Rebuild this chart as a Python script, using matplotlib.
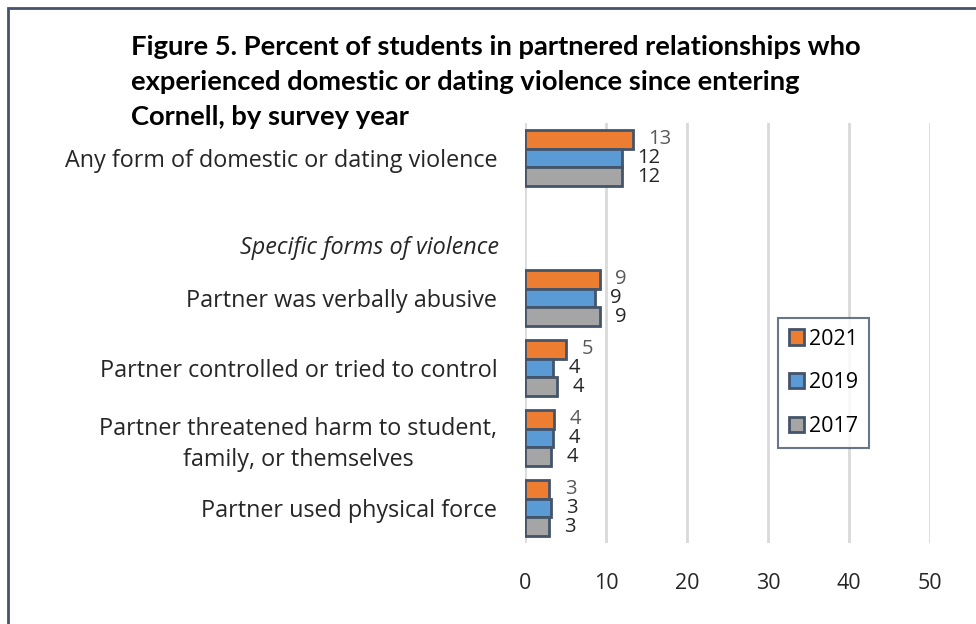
import matplotlib.pyplot as plt
import numpy as np
from matplotlib.patches import Rectangle

categories = ["Any form of domestic or dating violence", "",
              "Partner was verbally abusive",
              "Partner controlled or tried to control",
              "Partner threatened harm to student,\nfamily, or themselves",
              "Partner used physical force"]
years = ["2021", "2019", "2017"]
v2021 = [13.3, np.nan, 9.2, 5.1, 3.6, 3.0]
v2019 = [12.0, np.nan, 8.6, 3.5, 3.5, 3.2]
v2017 = [12.0, np.nan, 9.2, 4.0, 3.2, 2.9]
labels2021 = ["13", "", "9", "5", "4", "3"]
labels2019 = ["12", "", "9", "4", "4", "3"]
labels2017 = ["12", "", "9", "4", "4", "3"]
xticks = [0, 10, 20, 30, 40, 50]

font = ["Open Sans", "DejaVu Sans"]
plt.rcParams["font.family"] = font
fs = 15.5
val_fs = 14.5
cat_fs = 16.8

fig = plt.figure(figsize=(9.76, 6.24), dpi=100)
ax = fig.add_axes([0.538, 0.130, 0.415, 0.673])

colors = ["#ED7D31", "#5B9BD5", "#A5A5A5"]
label_colors = ["#595959", "#262626", "#262626"]
edge = "#44546A"
h = 0.267
y = np.arange(len(categories))
series = [v2021, v2019, v2017]
labs = [labels2021, labels2019, labels2017]
for i, (vals, lab) in enumerate(zip(series, labs)):
    pos = y + (i - 1) * h
    bars = ax.barh(pos, vals, height=h, color=colors[i], edgecolor=edge,
                   linewidth=2, label=years[i], zorder=3)
    for b, v, t in zip(bars, vals, lab):
        if t:
            ax.annotate(t, (v, b.get_y() + h / 2), xytext=(11, 0),
                        textcoords="offset points", va="center", ha="left",
                        fontsize=val_fs, color=label_colors[i])

ax.set_xlim(0, 50)
ax.set_ylim(5.5, -0.5)
ax.set_xticks(xticks)
ax.set_yticks(y)
ax.set_yticklabels(categories, fontsize=cat_fs, color="#262626",
                   multialignment="center", linespacing=1.42)
ax.tick_params(axis="y", length=0, pad=20)
ax.tick_params(axis="x", length=0, pad=22, labelsize=fs, labelcolor="#262626")
ax.grid(axis="x", color="#D9D9D9", linewidth=2, zorder=0)
for s in ax.spines.values():
    s.set_visible(False)

ax.text(-0.065, 1.28, "Specific forms of violence", transform=ax.get_yaxis_transform(),
        ha="right", va="center", fontsize=cat_fs, style="italic", color="#262626")

fig.text(0.134, 0.944, "Figure 5. Percent of students in partnered relationships who\n"
         "experienced domestic or dating violence since entering\n"
         "Cornell, by survey year", ha="left", va="top", fontsize=19.7,
         fontweight="bold", family=["Lato", "DejaVu Sans"], linespacing=1.56,
         color="#000000")

leg = ax.legend(loc="upper left", bbox_to_anchor=(0.625, 0.536), fontsize=fs,
                frameon=True, fancybox=False, handlelength=0.7, handleheight=0.7,
                handletextpad=0.25, labelspacing=1.05, borderpad=0.5,
                borderaxespad=0)
leg.get_frame().set_edgecolor(edge)
leg.get_frame().set_linewidth(1.5)

fig.patches.append(Rectangle((0.008, -0.1), 1.2, 1.087, transform=fig.transFigure,
                             fill=False, edgecolor="#44546A", linewidth=2))

fig.savefig("out.png", dpi=100)
